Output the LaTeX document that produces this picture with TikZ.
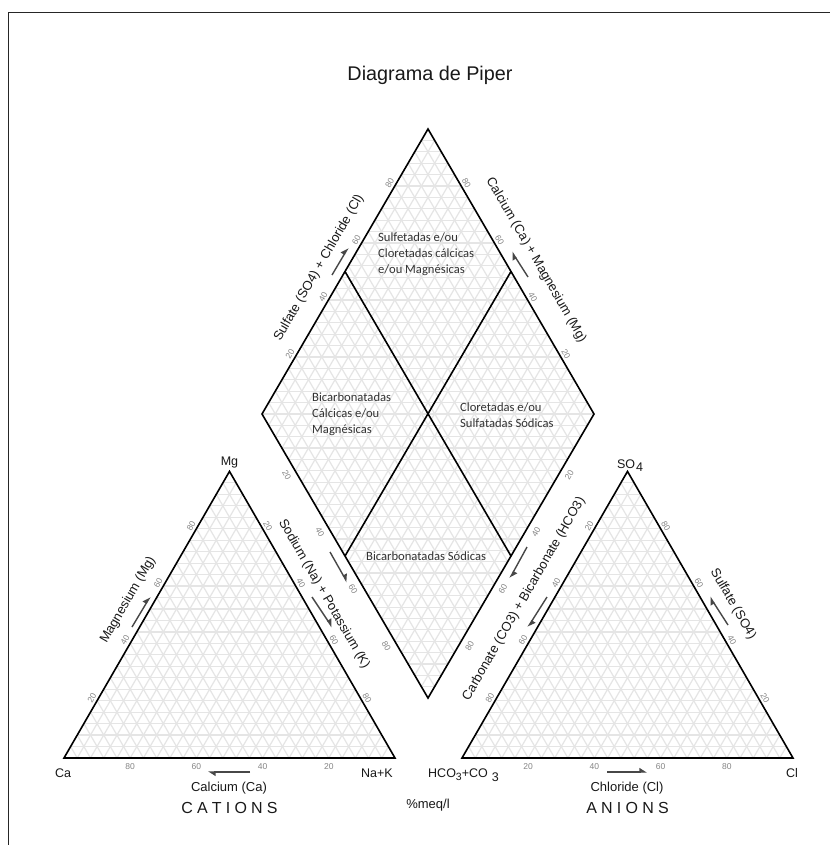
\documentclass[tikz,border=0pt]{standalone}
\usepackage{fontspec}
\setmainfont{Liberation Sans}
\newfontfamily\calibrifont{Carlito}
\usetikzlibrary{calc,arrows.meta}
\begin{document}
\begin{tikzpicture}[x=1pt,y=-1pt,
  mainline/.style={line width=1.6pt, black, line join=miter},
  gridline/.style={line width=1.2pt, color=black!10},
  tick/.style={font=\fontsize{8.5}{9}\selectfont, text=black!48, inner sep=0pt},
  axlab/.style={font=\fontsize{13}{15}\selectfont, text=black!90, inner sep=0pt},
  vert/.style={font=\fontsize{12.5}{14}\selectfont, text=black!90, inner sep=0pt},
  region/.style={font=\calibrifont\fontsize{12.6}{16}\selectfont, align=left, anchor=west, inner sep=0pt, text=black!80},
  dirarrow/.style={draw=black!72, line width=1.4pt, -{Triangle[harpoon,length=6.5pt,width=8pt,fill=black!72]}},
]
\useasboundingbox (0,0) rectangle (830,845);
\fill[white] (0,0) rectangle (830,845);
% frame
\draw[line width=1pt, black!85] (8,845) -- (8,13) -- (830,13);

% vertices
\coordinate (Ca) at (64,758);
\coordinate (Na) at (395,758);
\coordinate (Mg) at (229.5,471.4);
\coordinate (Hc) at (462,758);
\coordinate (Cl) at (793,758);
\coordinate (S4) at (627.5,471.4);
\coordinate (L) at (262,414);
\coordinate (R) at (594,414);
\coordinate (T) at (428,129);
\coordinate (B) at (428,698);

% grids
\foreach \i in {1,...,24} {
  \pgfmathsetmacro{\fr}{\i/25}
  \draw[gridline] ($(Ca)!\fr!(Mg)$) -- ($(Na)!\fr!(Mg)$);
  \draw[gridline] ($(Ca)!\fr!(Na)$) -- ($(Mg)!\fr!(Na)$);
  \draw[gridline] ($(Na)!\fr!(Ca)$) -- ($(Mg)!\fr!(Ca)$);
  \draw[gridline] ($(Hc)!\fr!(S4)$) -- ($(Cl)!\fr!(S4)$);
  \draw[gridline] ($(Hc)!\fr!(Cl)$) -- ($(S4)!\fr!(Cl)$);
  \draw[gridline] ($(Cl)!\fr!(Hc)$) -- ($(S4)!\fr!(Hc)$);
  \draw[gridline] ($(B)!\fr!(L)$) -- ($(R)!\fr!(T)$);
  \draw[gridline] ($(B)!\fr!(R)$) -- ($(L)!\fr!(T)$);
  \draw[gridline] ($(B)!\fr!(L)$) -- ($(B)!\fr!(R)$);
  \draw[gridline] ($(T)!\fr!(L)$) -- ($(T)!\fr!(R)$);
}
\draw[gridline] (L) -- (R);

% outlines
\draw[mainline] (Ca) -- (Na) -- (Mg) -- cycle;
\draw[mainline] (Hc) -- (Cl) -- (S4) -- cycle;
\draw[mainline] (T) -- (R) -- (B) -- (L) -- cycle;
\draw[mainline] ($(L)!.5!(T)$) -- ($(R)!.5!(B)$);
\draw[mainline] ($(T)!.5!(R)$) -- ($(L)!.5!(B)$);

% tick labels
\foreach \v/\lab/\rl in {0.2/20/80,0.4/40/60,0.6/60/40,0.8/80/20} {
  \node[tick,rotate=60] (cl\lab) at ($(Ca)!\v!(Mg)+(-5.2,-3)$) {\lab};
  \node[tick,rotate=-60] (cr\lab) at ($(Mg)!\v!(Na)+(5.2,-3)$) {\lab};
  \node[tick] (cb\lab) at ($(Ca)!\v!(Na)+(0,9)$) {\rl};
  \node[tick,rotate=60] (al\lab) at ($(S4)!\v!(Hc)+(-5.2,-3)$) {\lab};
  \node[tick,rotate=-60] (ar\lab) at ($(S4)!\v!(Cl)+(5.2,-3)$) {\rl};
  \node[tick] (ab\lab) at ($(Hc)!\v!(Cl)+(0,9)$) {\lab};
  \node[tick,rotate=60] (dtl\lab) at ($(L)!\v!(T)+(-5.2,-3)$) {\lab};
  \node[tick,rotate=-60] (dtr\lab) at ($(T)!\v!(R)+(5.2,-3)$) {\rl};
  \node[tick,rotate=-60] (dbl\lab) at ($(L)!\v!(B)+(-8.5,4.5)$) {\lab};
  \node[tick,rotate=60] (dbr\lab) at ($(R)!\v!(B)+(8.5,4.5)$) {\lab};
}

% title
\node[font=\fontsize{19.8}{22}\selectfont, text=black!90] (title) at (430,75) {Diagrama de Piper};

% vertex labels
\node[vert] (lMg) at (229.5,462) {Mg};
\node[vert] (lCa) at (63,773) {Ca};
\node[vert] (lNa) at (377,773) {Na+K};
\node[vert] (lCl) at (792,773) {Cl};
\node[vert, anchor=base] (lSO) at (630,468) {SO\kern1pt\raisebox{-0.6ex}{4}};
\node[vert, anchor=base west] (lHC) at (428,777.5) {HCO\raisebox{-0.45ex}{\fontsize{10.5}{11}\selectfont 3}+CO\hspace{4pt}\raisebox{-0.6ex}{3}};

% axis titles
\node[axlab, rotate=60] (tMg) at (128,600) {Magnesium (Mg)};
\node[axlab, rotate=-60] (tNa) at (324,594) {Sodium (Na) + Potassium (K)};
\node[axlab] (tCa) at (229,788) {Calcium (Ca)};
\node[font=\fontsize{16}{18}\selectfont, text=black!90] (tCat) at (229.5,808) {C\hspace{4.2pt}A\hspace{4.2pt}T\hspace{4.2pt}I\hspace{4.2pt}O\hspace{4.2pt}N\hspace{4.2pt}S};
\node[axlab, rotate=60] (tCO) at (524,599) {Carbonate (CO3) + Bicarbonate (HCO3)};
\node[axlab, rotate=-60] (tSO) at (733,604) {Sulfate (SO4)};
\node[axlab] (tCl) at (627,788) {Chloride (Cl)};
\node[font=\fontsize{16}{18}\selectfont, text=black!90] (tAn) at (627.5,808) {A\hspace{4.2pt}N\hspace{4.2pt}I\hspace{4.2pt}O\hspace{4.2pt}N\hspace{4.2pt}S};
\node[axlab, rotate=60] (tSC) at (319,268) {Sulfate (SO4) + Chloride (Cl)};
\node[axlab, rotate=-60] (tCM) at (536,260) {Calcium (Ca) + Magnesium (Mg)};
\node[axlab] (tmeq) at (428,805) {\%meq/l};

% direction arrows
\draw[dirarrow] (132,627) -- (150,597);
\draw[dirarrow] (312,597) -- (332,627);
\draw[dirarrow] (330,552) -- (347,582);
\draw[dirarrow] (250,772) -- (208,772);
\draw[dirarrow] (527,547) -- (510,578);
\draw[dirarrow] (547,597) -- (528,627);
\draw[dirarrow] (728,625) -- (710,597);
\draw[dirarrow] (607,772) -- (647,772);
\draw[dirarrow] (332,275) -- (348,248);
\draw[dirarrow] (528,277) -- (512,252);

% region labels
\node[region] (r1) at (378,254) {Sulfetadas e/ou\\Cloretadas cálcicas\\e/ou Magnésicas};
\node[region] (r2) at (312,414) {Bicarbonatadas\\Cálcicas e/ou\\Magnésicas};
\node[region] (r3) at (460,415) {Cloretadas e/ou\\Sulfatadas Sódicas};
\node[region] (r4) at (366,556) {Bicarbonatadas Sódicas};
\end{tikzpicture}
\end{document}
